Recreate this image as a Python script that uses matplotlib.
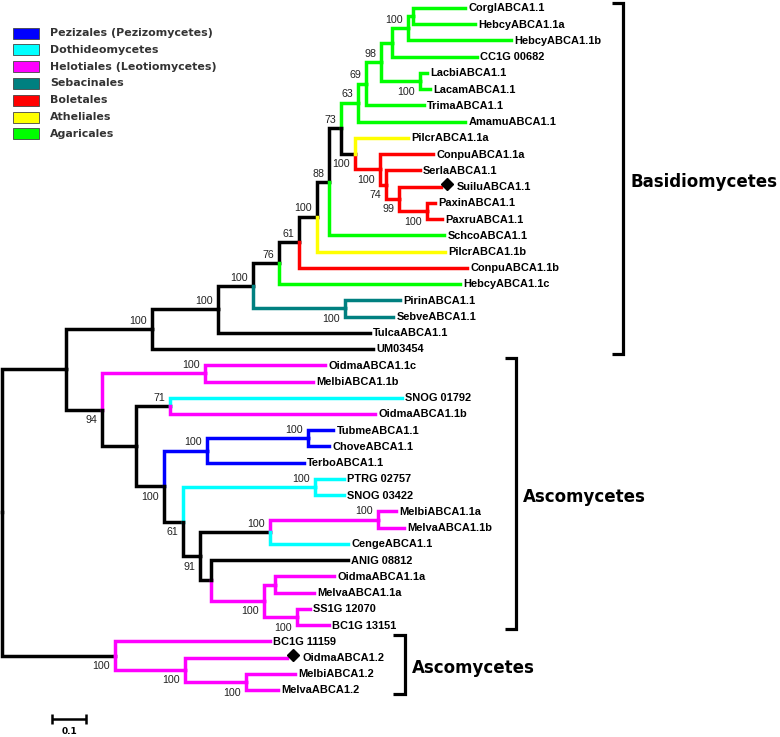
import matplotlib
matplotlib.use("Agg")
import matplotlib.pyplot as plt
from matplotlib.patches import Rectangle

# ---------------- data ----------------
palette = {"k": "#000000", "grn": "#00ff00", "yel": "#ffff00", "red": "#ff0000",
           "teal": "#008080", "cyan": "#00ffff", "mag": "#ff00ff", "blue": "#0000ff"}

legend_labels = ["Pezizales (Pezizomycetes)", "Dothideomycetes", "Helotiales (Leotiomycetes)",
                 "Sebacinales", "Boletales", "Atheliales", "Agaricales"]
legend_colors = ["blue", "cyan", "mag", "teal", "red", "yel", "grn"]

# internal nodes: id, parent, depth (substitutions/site), branch colour, support, label side
node_ids = ["root", "n66", "n152", "n218", "n253", "n279", "n299", "n317", "n329", "n341",
            "nG", "nF", "nD", "nC", "nB", "nA", "nE", "nP", "nBol", "n74", "n99", "nPax", "nSeb",
            "n94", "nOM", "n136", "n71", "n164", "nPez", "nTC", "n183", "nPS", "n91", "n270",
            "nMM", "n213", "n266", "n277", "n297", "n115", "n187", "n248"]
node_parent = [None, "root", "n66", "n152", "n218", "n253", "n279", "n299", "n317", "n329",
               "n341", "nG", "nF", "nD", "nC", "nB", "nD", "n341", "nP", "nBol", "n74", "n99", "n253",
               "n66", "n94", "n94", "n136", "n136", "n164", "nPez", "n164", "n183", "n183", "n91",
               "n270", "n91", "n213", "n266", "n266", "root", "n115", "n187"]
node_depth = [0.0, 0.188, 0.441, 0.635, 0.738, 0.815, 0.874, 0.926, 0.962, 0.997,
              1.047, 1.071, 1.115, 1.147, 1.194, 1.209, 1.229, 1.038, 1.112, 1.129, 1.168, 1.250, 1.009,
              0.294, 0.597, 0.394, 0.494, 0.476, 0.603, 0.900, 0.532, 0.921, 0.582, 0.788,
              1.106, 0.615, 0.771, 0.803, 0.868, 0.332, 0.538, 0.718]
node_color = ["k", "k", "k", "k", "k", "k", "k", "k", "k", "k",
              "grn", "grn", "grn", "grn", "grn", "grn", "grn", "k", "red", "red", "red", "red", "teal",
              "k", "mag", "k", "k", "k", "blue", "blue", "k", "cyan", "k", "k",
              "mag", "k", "mag", "mag", "mag", "k", "mag", "mag"]
node_support = [None, None, 100, 100, 100, 76, 61, 100, 88, 73,
                63, 69, 98, None, 100, None, 100, 100, 100, 74, 99, 100, 100,
                94, 100, None, 71, 100, 100, 100, 61, 100, 91, 100,
                100, None, 100, None, 100, 100, 100, 100]
support_side = ["a", "a", "a", "a", "a", "a", "a", "a", "a", "a",
                "a", "a", "a", "a", "a", "a", "b", "b", "b", "b", "b", "b", "b",
                "b", "a", "a", "a", "b", "a", "a", "b", "a", "b", "a",
                "a", "a", "b", "a", "b", "b", "b", "b"]

leaf_names = ["CorglABCA1.1", "HebcyABCA1.1a", "HebcyABCA1.1b", "CC1G 00682", "LacbiABCA1.1",
              "LacamABCA1.1", "TrimaABCA1.1", "AmamuABCA1.1", "PilcrABCA1.1a", "ConpuABCA1.1a",
              "SerlaABCA1.1", "SuiluABCA1.1", "PaxinABCA1.1", "PaxruABCA1.1", "SchcoABCA1.1",
              "PilcrABCA1.1b", "ConpuABCA1.1b", "HebcyABCA1.1c", "PirinABCA1.1", "SebveABCA1.1",
              "TulcaABCA1.1", "UM03454", "OidmaABCA1.1c", "MelbiABCA1.1b", "SNOG 01792",
              "OidmaABCA1.1b", "TubmeABCA1.1", "ChoveABCA1.1", "TerboABCA1.1", "PTRG 02757",
              "SNOG 03422", "MelbiABCA1.1a", "MelvaABCA1.1b", "CengeABCA1.1", "ANIG 08812",
              "OidmaABCA1.1a", "MelvaABCA1.1a", "SS1G 12070", "BC1G 13151", "BC1G 11159",
              "OidmaABCA1.2", "MelbiABCA1.2", "MelvaABCA1.2"]
leaf_parent = ["nA", "nA", "nB", "nC", "nE", "nE", "nF", "nG", "nP", "nBol",
               "n74", "n99", "nPax", "nPax", "n329", "n317", "n299", "n279", "nSeb", "nSeb",
               "n218", "n152", "nOM", "nOM", "n71", "n71", "nTC", "nTC", "nPez", "nPS",
               "nPS", "nMM", "nMM", "n270", "n213", "n277", "n277", "n297", "n297", "n115",
               "n187", "n248", "n248"]
leaf_depth = [1.362, 1.391, 1.497, 1.397, 1.250, 1.259, 1.241, 1.362, 1.194, 1.268,
              1.229, 1.291, 1.274, 1.294, 1.300, 1.303, 1.368, 1.347, 1.171, 1.150,
              1.082, 1.091, 0.950, 0.915, 1.176, 1.097, 0.974, 0.962, 0.888, 1.006,
              1.006, 1.159, 1.182, 1.018, 1.018, 0.976, 0.918, 0.906, 0.962, 0.788,
              0.838, 0.862, 0.812]
leaf_color = ["grn", "grn", "grn", "grn", "grn", "grn", "grn", "grn", "yel", "red",
              "red", "red", "red", "red", "grn", "yel", "red", "grn", "teal", "teal",
              "k", "k", "mag", "mag", "cyan", "mag", "blue", "blue", "blue", "cyan",
              "cyan", "mag", "mag", "cyan", "k", "mag", "mag", "mag", "mag", "mag",
              "mag", "mag", "mag"]
marked_leaves = ["SuiluABCA1.1", "OidmaABCA1.2"]

clade_names = ["Basidiomycetes", "Ascomycetes", "Ascomycetes"]
scale_value = 0.1

# ---------------- layout ----------------
W, H = 780, 737
fig = plt.figure(figsize=(W / 100, H / 100), dpi=100)
ax = fig.add_axes([0, 0, 1, 1])
PX = 340.0          # pixels per substitution unit
ROW = 16.24         # pixels per leaf row
Y0 = 8.0
ax.set_xlim(-2 / PX, (W - 2) / PX)
ax.set_ylim((H - Y0) / ROW, -Y0 / ROW)
ax.axis("off")

# y positions
ypos = {}
for i, n in enumerate(leaf_names):
    ypos[n] = float(i)
children = {nid: [] for nid in node_ids}
for n, p in zip(leaf_names, leaf_parent):
    children[p].append(n)
for n, p in zip(node_ids, node_parent):
    if p is not None:
        children[p].append(n)
depth = dict(zip(node_ids, node_depth))
depth.update(dict(zip(leaf_names, leaf_depth)))
color = dict(zip(node_ids, node_color))
color.update(dict(zip(leaf_names, leaf_color)))
parent = dict(zip(node_ids, node_parent))
parent.update(dict(zip(leaf_names, leaf_parent)))


def gety(n):
    if n in ypos:
        return ypos[n]
    ys = [gety(c) for c in children[n]]
    ypos[n] = (min(ys) + max(ys)) / 2.0
    return ypos[n]


gety("root")

LW = 2.5
for n in list(node_ids[1:]) + leaf_names:
    p = parent[n]
    ax.plot([depth[p], depth[p], depth[n]], [ypos[p], ypos[n], ypos[n]],
            color=palette[color[n]], lw=LW, solid_capstyle="projecting",
            solid_joinstyle="miter", zorder=2)

# support values
for nid, s, side in zip(node_ids, node_support, support_side):
    if s is None:
        continue
    dy = 5.9 if side == "a" else -7.6
    ax.annotate(str(s), (depth[nid], ypos[nid]), xytext=(-3.6, dy), textcoords="offset points",
                ha="right", va="center", fontsize=7.7, family="Liberation Sans", color="#222222")

# leaf labels
for n in leaf_names:
    off = 2.4
    if n in marked_leaves:
        ax.plot([depth[n] + 6.5 / PX], [ypos[n] - 0.15], marker="D", ms=6.5, color="black", zorder=3)
        off = 11.5
    ax.annotate(n, (depth[n], ypos[n]), xytext=(off, -0.3), textcoords="offset points",
                ha="left", va="center", fontsize=7.9, family="Liberation Sans",
                fontweight="bold", color="black")

# scale bar
sx0 = 50 / PX
sy = (719 - Y0) / ROW
ax.plot([sx0, sx0 + scale_value], [sy, sy], color="black", lw=1.8, solid_capstyle="butt")
for xx in (sx0, sx0 + scale_value):
    ax.plot([xx, xx], [sy - 0.3, sy + 0.3], color="black", lw=1.8, solid_capstyle="butt")
ax.text(sx0 + scale_value / 2, (732 - Y0) / ROW, str(scale_value), ha="center", va="center",
        fontsize=6.5, fontweight="bold", family="DejaVu Sans")

# overlay in pixel coordinates for legend and brackets
ov = fig.add_axes([0, 0, 1, 1], facecolor="none")
ov.set_xlim(0, W)
ov.set_ylim(H, 0)
ov.axis("off")
for k, (lab, c) in enumerate(zip(legend_labels, legend_colors)):
    yc = 33 + 16.8 * k
    ov.add_patch(Rectangle((13, yc - 5.5), 26, 11, facecolor=palette[c], edgecolor="#444444", lw=0.6))
    ov.text(50, yc, lab, ha="left", va="center", fontsize=7.9, fontweight="bold",
            family="DejaVu Sans", color="#333333")

brackets = [(623, 3, 354, 612, 630, 182), (516, 358, 629, 505, 523, 497), (405, 635, 694, 393, 412, 668)]
for (bx, y1, y2, tx, lx, ly), name in zip(brackets, clade_names):
    ov.plot([tx, bx, bx, tx], [y1, y1, y2, y2], color="black", lw=2.3,
            solid_joinstyle="miter", solid_capstyle="butt")
    ov.text(lx, ly, name, ha="left", va="center", fontsize=12, fontweight="bold",
            family="DejaVu Sans", color="black")

fig.savefig("out.png", dpi=100)
